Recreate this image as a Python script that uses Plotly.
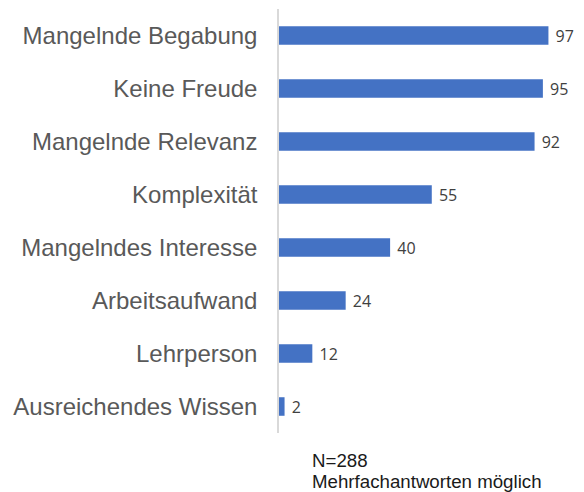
import plotly.graph_objects as go

# Data (top to bottom as shown)
categories = [
    "Mangelnde Begabung",
    "Keine Freude",
    "Mangelnde Relevanz",
    "Komplexität",
    "Mangelndes Interesse",
    "Arbeitsaufwand",
    "Lehrperson",
    "Ausreichendes Wissen",
]
counts = [97, 95, 92, 55, 40, 24, 12, 2]
note_lines = ["N=288", "Mehrfachantworten möglich"]

# the page body has an 8px margin, so the figure is sized to fit the window
W, H = 576, 484
L, R, T, B = 271, 5, 1, 59
plot_h = H - T - B

fig = go.Figure()
fig.add_trace(
    go.Bar(
        y=categories,
        x=counts,
        orientation="h",
        marker=dict(color="#4472C4", line=dict(width=0)),
        width=0.35,
        text=["\u00a0" + str(c) for c in counts],
        textposition="outside",
        constraintext="none",
        cliponaxis=False,
        textfont=dict(family="Open Sans", size=16, color="#404040"),
    )
)

fig.update_layout(
    width=W,
    height=H,
    margin=dict(l=L, r=R, t=T, b=B, autoexpand=False),
    paper_bgcolor="white",
    plot_bgcolor="white",
    showlegend=False,
    xaxis=dict(range=[0, 108], visible=False, fixedrange=True),
    yaxis=dict(
        autorange="reversed",
        showline=True,
        linecolor="#d9d9d9",
        linewidth=1.5,
        showgrid=False,
        ticks="",
        ticklabelstandoff=15,
        automargin=False,
        tickfont=dict(family="Liberation Sans, Arial", size=24, color="#595959"),
    ),
)

# note below the chart, one annotation per line
note_y = [-27 / plot_h, -48.5 / plot_h]
for line, y in zip(note_lines, note_y):
    fig.add_annotation(
        text=line,
        x=(302 - L) / (W - L - R),
        y=y,
        xref="paper",
        yref="paper",
        showarrow=False,
        xanchor="left",
        yanchor="middle",
        font=dict(family="Liberation Sans, Arial", size=18.7, color="#1a1a1a"),
    )

fig.write_html("out.html")
